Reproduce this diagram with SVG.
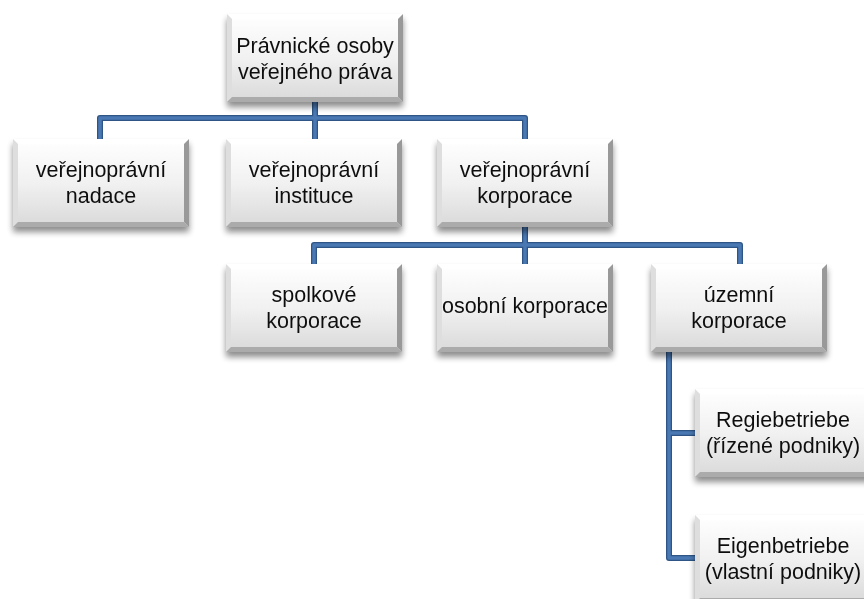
<svg xmlns="http://www.w3.org/2000/svg" width="864" height="599" viewBox="0 0 864 599">
<defs>
<linearGradient id="g" x1="0" y1="0" x2="0" y2="1">
<stop offset="0" stop-color="#ffffff"/>
<stop offset="0.5" stop-color="#f1f1f1"/>
<stop offset="1" stop-color="#d9d9d9"/>
</linearGradient>
<filter id="sh" x="-10%" y="-10%" width="120%" height="130%">
<feGaussianBlur in="SourceAlpha" stdDeviation="3"/>
<feOffset dx="0" dy="5" result="b"/>
<feComponentTransfer><feFuncA type="linear" slope="0.45"/></feComponentTransfer>
<feMerge><feMergeNode/><feMergeNode in="SourceGraphic"/></feMerge>
</filter>
<g id="box">
<rect x="0" y="0" width="176" height="88" fill="url(#g)"/>
<polygon points="0,0 176,0 171,5 5,5" fill="#ffffff"/>
<polygon points="0,0 5,5 5,83 0,88" fill="#dedede"/>
<polygon points="176,0 176,88 171,83 171,5" fill="#999999"/>
<polygon points="0,88 5,83 171,83 176,88" fill="#ababab"/>
</g>
</defs>
<style>
.t{font-family:"Liberation Sans","DejaVu Sans",sans-serif;font-size:21.5px;fill:#111;text-anchor:middle}
.c{fill:none;stroke-linejoin:round}
.co{stroke:#2e5585;stroke-width:6}
.ci{stroke:#4a78b2;stroke-width:3.5}
</style>
<g id="connectors">
<g class="c co">
<path d="M315,101 V139 M100,139 V118 H525 V139"/>
<path d="M525,227 V264 M314,264 V245 H740 V264"/>
<path d="M669,352 V558 H695 M669,433 H695"/>
</g>
<g class="c ci">
<path d="M315,101 V139 M100,139 V118 H525 V139"/>
<path d="M525,227 V264 M314,264 V245 H740 V264"/>
<path d="M669,352 V558 H695 M669,433 H695"/>
</g>
</g>
<g id="n0" filter="url(#sh)"><use href="#box" x="227" y="14"/><text class="t" x="315" y="53">Právnické osoby</text><text class="t" x="315" y="79">veřejného práva</text></g>
<g id="n1" filter="url(#sh)"><use href="#box" x="13" y="139"/><text class="t" x="101" y="177">veřejnoprávní</text><text class="t" x="101" y="203">nadace</text></g>
<g id="n2" filter="url(#sh)"><use href="#box" x="226" y="139"/><text class="t" x="314" y="177">veřejnoprávní</text><text class="t" x="314" y="203">instituce</text></g>
<g id="n3" filter="url(#sh)"><use href="#box" x="437" y="139"/><text class="t" x="525" y="177">veřejnoprávní</text><text class="t" x="525" y="203">korporace</text></g>
<g id="n4" filter="url(#sh)"><use href="#box" x="226" y="264"/><text class="t" x="314" y="302">spolkové</text><text class="t" x="314" y="328">korporace</text></g>
<g id="n5" filter="url(#sh)"><use href="#box" x="437" y="264"/><text class="t" x="525" y="313">osobní korporace</text></g>
<g id="n6" filter="url(#sh)"><use href="#box" x="651" y="264"/><text class="t" x="739" y="302">územní</text><text class="t" x="739" y="328">korporace</text></g>
<g id="n7" filter="url(#sh)"><use href="#box" x="695" y="389"/><text class="t" x="783" y="427">Regiebetriebe</text><text class="t" x="783" y="453">(řízené podniky)</text></g>
<g id="n8" filter="url(#sh)"><use href="#box" x="695" y="515"/><text class="t" x="783" y="553">Eigenbetriebe</text><text class="t" x="783" y="579">(vlastní podniky)</text></g>
</svg>
